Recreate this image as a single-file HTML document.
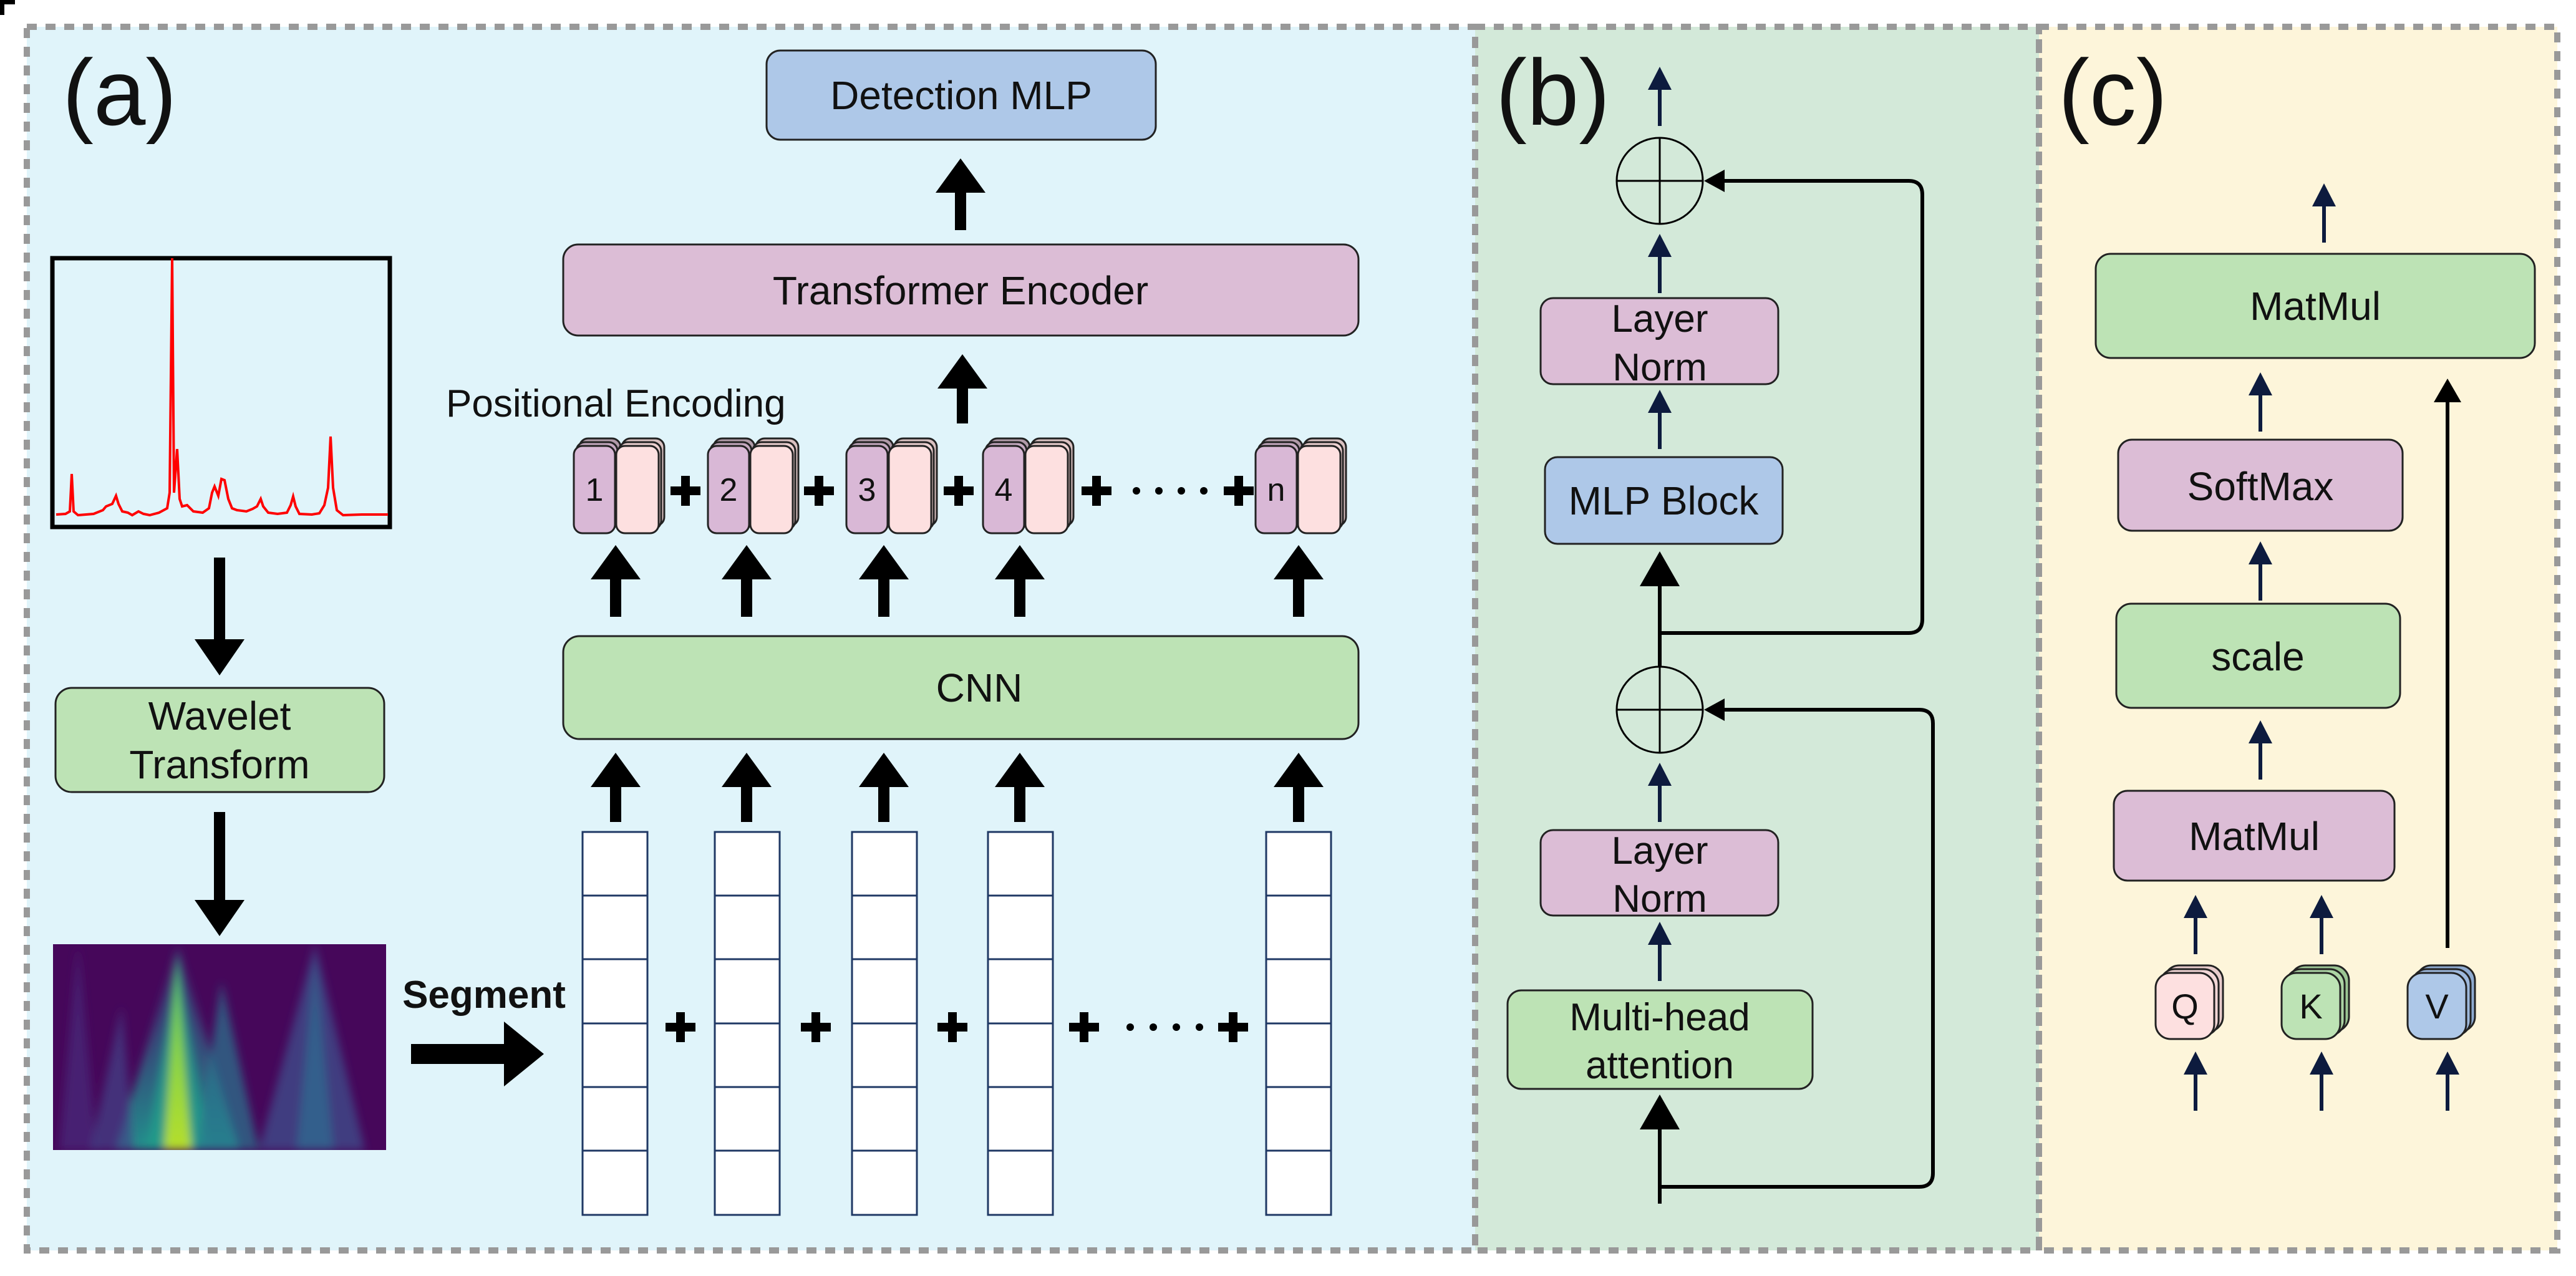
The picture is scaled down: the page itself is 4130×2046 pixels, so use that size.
<!DOCTYPE html>
<html><head><meta charset="utf-8"><style>
html,body{margin:0;padding:0;background:#fff;}
svg{display:block;}
text{font-family:"Liberation Sans",sans-serif;fill:#111;}
</style></head><body>
<svg xmlns="http://www.w3.org/2000/svg" width="4130" height="2046" viewBox="0 0 4130 2046">
<defs>
<filter id="bl" x="-20%" y="-20%" width="140%" height="140%"><feGaussianBlur stdDeviation="7"/></filter>
<linearGradient id="cone" x1="0" y1="0" x2="0" y2="1"><stop offset="0" stop-color="#3b528b" stop-opacity="0.3"/><stop offset="1" stop-color="#21918c"/></linearGradient>
<linearGradient id="cone2" x1="0" y1="0" x2="0" y2="1"><stop offset="0" stop-color="#5ec962"/><stop offset="1" stop-color="#b5de2b"/></linearGradient>
</defs>
<!-- panel backgrounds -->
<rect x="43" y="43" width="2322" height="1962" fill="#e0f4fa"/>
<rect x="2365" y="43" width="904" height="1962" fill="#d3e9d9"/>
<rect x="3269" y="43" width="831" height="1962" fill="#fdf5da"/>
<g fill="none" stroke="#999" stroke-width="10" stroke-dasharray="16 14">
<rect x="43" y="43" width="2322" height="1962"/>
<rect x="2365" y="43" width="904" height="1962"/>
<rect x="3269" y="43" width="831" height="1962"/>
</g>
<text x="100" y="200" font-size="150">(a)</text>
<text x="2398" y="200" font-size="150">(b)</text>
<text x="3300" y="200" font-size="150">(c)</text>

<!-- spectrum -->
<rect x="84" y="414" width="541" height="431" fill="#e0f4fa" stroke="#000" stroke-width="7"/>
<polyline fill="none" stroke="#ff0000" stroke-width="4" points="90,825 105,824 112,820 115,760 118,820 125,826 150,824 165,818 170,812 180,808 186,795 190,808 196,820 205,822 212,826 222,820 230,824 240,826 255,822 268,815 272,790 276,414 279,790 284,720 288,800 292,812 300,810 310,820 325,822 335,815 340,790 344,780 350,795 355,768 360,770 366,800 372,815 380,818 395,820 405,816 412,812 418,800 422,812 430,822 445,824 460,822 466,810 470,796 474,812 480,824 500,825 512,823 520,810 526,782 530,700 534,782 540,818 550,826 580,825 622,825"/>

<!-- scalogram -->
<svg x="85" y="1514" width="534" height="330" viewBox="0 0 534 330">
<rect width="534" height="330" fill="#46075a"/>
<g filter="url(#bl)">
<path d="M40 0 L10 330 L70 330 Z" fill="#482878" opacity="0.8"/>
<path d="M200 0 L100 330 L300 330 Z" fill="url(#cone)"/>
<path d="M200 10 L150 330 L250 330 Z" fill="#1f9e89" opacity="0.8"/>
<path d="M198 20 L178 330 L222 330 Z" fill="url(#cone2)"/>
<path d="M270 60 L230 330 L330 330 Z" fill="#2a788e" opacity="0.7"/>
<path d="M420 0 L330 330 L500 330 Z" fill="#3e4a89" opacity="0.8"/>
<path d="M420 20 L390 330 L450 330 Z" fill="#31688e" opacity="0.8"/>
<path d="M110 100 L60 330 L130 330 Z" fill="#414487" opacity="0.7"/>
</g>
</svg>

<!-- fat arrows -->
<g fill="#000">
<polygon points="343,894 361,894 361,1025 392,1025 352,1083 312,1025 343,1025"/>
<polygon points="343,1302 361,1302 361,1443 392,1443 352,1501 312,1443 343,1443"/>
<polygon points="659,1674 808,1674 808,1638 872,1690 808,1742 808,1706 659,1706"/>
</g>
<g fill="#000" id="ups">
<polygon points="978,1318 996,1318 996,1262 1027,1262 987,1207 947,1262 978,1262"/>
<polygon points="1188,1318 1206,1318 1206,1262 1237,1262 1197,1207 1157,1262 1188,1262"/>
<polygon points="1408,1318 1426,1318 1426,1262 1457,1262 1417,1207 1377,1262 1408,1262"/>
<polygon points="1626,1318 1644,1318 1644,1262 1675,1262 1635,1207 1595,1262 1626,1262"/>
<polygon points="2073,1318 2091,1318 2091,1262 2122,1262 2082,1207 2042,1262 2073,1262"/>
<polygon points="978,989 996,989 996,929 1027,929 987,874 947,929 978,929"/>
<polygon points="1188,989 1206,989 1206,929 1237,929 1197,874 1157,929 1188,929"/>
<polygon points="1408,989 1426,989 1426,929 1457,929 1417,874 1377,929 1408,929"/>
<polygon points="1626,989 1644,989 1644,929 1675,929 1635,874 1595,929 1626,929"/>
<polygon points="2073,989 2091,989 2091,929 2122,929 2082,874 2042,929 2073,929"/>
<polygon points="1534,679 1552,679 1552,623 1583,623 1543,568 1503,623 1534,623"/>
<polygon points="1531,369 1549,369 1549,309 1580,309 1540,254 1500,309 1531,309"/>
</g>

<text x="776" y="1616" font-size="62" font-weight="bold" text-anchor="middle">Segment</text>

<!-- columns -->
<g fill="#fff" stroke="#1f3864" stroke-width="3">
<g id="col"><rect x="934" y="1334" width="104" height="614"/>
<path d="M934 1436H1038M934 1538H1038M934 1641H1038M934 1743H1038M934 1845H1038"/></g>
<use href="#col" x="212"/><use href="#col" x="432"/><use href="#col" x="650"/><use href="#col" x="1096"/>
</g>

<!-- plus signs -->
<g fill="#000">
<g id="pl"><rect x="-24" y="-7" width="48" height="14"/><rect x="-7" y="-24" width="14" height="48"/></g>
<use href="#pl" x="1091" y="1647"/><use href="#pl" x="1308" y="1647"/><use href="#pl" x="1527" y="1647"/><use href="#pl" x="1738" y="1647"/><use href="#pl" x="1977" y="1647"/>
<circle cx="1812" cy="1647" r="6"/><circle cx="1849" cy="1647" r="6"/><circle cx="1886" cy="1647" r="6"/><circle cx="1923" cy="1647" r="6"/>
<use href="#pl" x="1099" y="787"/><use href="#pl" x="1313" y="787"/><use href="#pl" x="1537" y="787"/><use href="#pl" x="1758" y="787"/><use href="#pl" x="1986" y="787"/>
<circle cx="1822" cy="787" r="6"/><circle cx="1858" cy="787" r="6"/><circle cx="1894" cy="787" r="6"/><circle cx="1930" cy="787" r="6"/>
</g>

<!-- boxes panel a -->
<rect x="1229" y="81" width="624" height="143" rx="22" fill="#aec8e8" stroke="#222" stroke-width="3"/>
<text x="1541" y="175" font-size="64" text-anchor="middle">Detection MLP</text>
<rect x="903" y="392" width="1275" height="146" rx="24" fill="#dcbdd6" stroke="#222" stroke-width="3"/>
<text x="1540" y="488" font-size="64" text-anchor="middle">Transformer Encoder</text>
<rect x="903" y="1020" width="1275" height="165" rx="26" fill="#bde3b5" stroke="#222" stroke-width="3"/>
<text x="1570" y="1125" font-size="64" text-anchor="middle">CNN</text>
<rect x="89" y="1103" width="527" height="167" rx="26" fill="#bde3b5" stroke="#222" stroke-width="3"/>
<text x="352" y="1170" font-size="64" text-anchor="middle">Wavelet</text>
<text x="352" y="1248" font-size="64" text-anchor="middle">Transform</text>
<text x="715" y="668" font-size="62">Positional Encoding</text>

<!-- tokens -->
<g stroke="#222" stroke-width="3">
<g id="tok">
<rect x="929" y="703" width="66" height="140" rx="14" fill="#b09aa8"/>
<rect x="924" y="709" width="66" height="140" rx="14" fill="#c4a8bf"/>
<rect x="920" y="715" width="66" height="140" rx="14" fill="#d9b8d6"/>
<rect x="997" y="703" width="68" height="140" rx="14" fill="#d9c0c0"/>
<rect x="992" y="709" width="68" height="140" rx="14" fill="#ecd0d0"/>
<rect x="988" y="715" width="68" height="140" rx="14" fill="#fde0e0"/>
</g>
<use href="#tok" x="215"/><use href="#tok" x="437"/><use href="#tok" x="656"/><use href="#tok" x="1093"/>
</g>
<g font-size="52" text-anchor="middle">
<text x="953" y="803">1</text><text x="1168" y="803">2</text><text x="1390" y="803">3</text><text x="1609" y="803">4</text><text x="2046" y="803">n</text>
</g>

<!-- panel b -->
<g fill="none" stroke="#000" stroke-width="6">
<path d="M2661 1015 H3060 Q3082 1015 3082 993 V312 Q3082 290 3060 290 H2760"/>
<path d="M2661 1903 H3077 Q3099 1903 3099 1881 V1160 Q3099 1138 3077 1138 H2760"/>
<path d="M2661 1069 V935"/>
<path d="M2661 1930 V1805"/>
</g>
<g fill="#000">
<polygon points="2732,290 2765,272 2765,308"/>
<polygon points="2732,1138 2765,1120 2765,1156"/>
<polygon points="2661,884 2693,940 2629,940"/>
<polygon points="2661,1755 2693,1811 2629,1811"/>
</g>
<g fill="none" stroke="#000" stroke-width="3">
<circle cx="2661" cy="290" r="69"/><path d="M2592 290H2730M2661 221V359"/>
<circle cx="2661" cy="1138" r="69"/><path d="M2592 1138H2730M2661 1069V1207"/>
</g>
<!-- small arrows -->
<g stroke="#0d1b3e" stroke-width="6" fill="#0d1b3e">
<g id="sa"><line x1="0" y1="0" x2="0" y2="-60"/><polygon stroke="none" points="0,-95 -19,-58 19,-58"/></g>
<use href="#sa" x="2661" y="202"/>
<use href="#sa" x="2661" y="470"/>
<use href="#sa" x="2661" y="720"/>
<use href="#sa" x="2661" y="1318"/>
<use href="#sa" x="2661" y="1573"/>
<use href="#sa" x="3726" y="389"/>
<use href="#sa" x="3624" y="692"/>
<use href="#sa" x="3624" y="963"/>
<use href="#sa" x="3624" y="1250"/>
<use href="#sa" x="3520" y="1530"/>
<use href="#sa" x="3722" y="1530"/>
<use href="#sa" x="3520" y="1781"/>
<use href="#sa" x="3722" y="1781"/>
<use href="#sa" x="3924" y="1781"/>
</g>
<line x1="3924" y1="1520" x2="3924" y2="640" stroke="#000" stroke-width="6"/>
<polygon points="3924,607 3946,645 3902,645" fill="#000"/>

<rect x="2470" y="478" width="381" height="138" rx="20" fill="#dcbdd6" stroke="#222" stroke-width="3"/>
<text x="2661" y="532" font-size="62" text-anchor="middle">Layer</text>
<text x="2661" y="610" font-size="62" text-anchor="middle">Norm</text>
<rect x="2477" y="733" width="381" height="139" rx="20" fill="#aec8e8" stroke="#222" stroke-width="3"/>
<text x="2667" y="825" font-size="64" text-anchor="middle">MLP Block</text>
<rect x="2470" y="1331" width="381" height="137" rx="20" fill="#dcbdd6" stroke="#222" stroke-width="3"/>
<text x="2661" y="1385" font-size="62" text-anchor="middle">Layer</text>
<text x="2661" y="1462" font-size="62" text-anchor="middle">Norm</text>
<rect x="2417" y="1588" width="489" height="158" rx="22" fill="#bde3b5" stroke="#222" stroke-width="3"/>
<text x="2661" y="1652" font-size="62" text-anchor="middle">Multi-head</text>
<text x="2661" y="1729" font-size="62" text-anchor="middle">attention</text>

<!-- panel c -->
<rect x="3360" y="407" width="704" height="167" rx="24" fill="#bde3b5" stroke="#222" stroke-width="3"/>
<text x="3712" y="513" font-size="64" text-anchor="middle">MatMul</text>
<rect x="3396" y="705" width="456" height="146" rx="22" fill="#dcbdd6" stroke="#222" stroke-width="3"/>
<text x="3624" y="802" font-size="64" text-anchor="middle">SoftMax</text>
<rect x="3393" y="968" width="455" height="167" rx="24" fill="#bde3b5" stroke="#222" stroke-width="3"/>
<text x="3620" y="1075" font-size="64" text-anchor="middle">scale</text>
<rect x="3389" y="1268" width="450" height="144" rx="22" fill="#dcbdd6" stroke="#222" stroke-width="3"/>
<text x="3614" y="1363" font-size="64" text-anchor="middle">MatMul</text>

<g stroke="#222" stroke-width="3">
<rect x="3470" y="1548" width="94" height="106" rx="24" fill="#e8cccc"/>
<rect x="3463" y="1554" width="94" height="106" rx="24" fill="#f2d6d6"/>
<rect x="3456" y="1560" width="94" height="106" rx="24" fill="#fde0e0"/>
<rect x="3672" y="1548" width="94" height="106" rx="24" fill="#9cc694"/>
<rect x="3665" y="1554" width="94" height="106" rx="24" fill="#acd4a4"/>
<rect x="3658" y="1560" width="94" height="106" rx="24" fill="#bde3b5"/>
<rect x="3874" y="1548" width="94" height="106" rx="24" fill="#8eaad0"/>
<rect x="3867" y="1554" width="94" height="106" rx="24" fill="#9eb9dc"/>
<rect x="3860" y="1560" width="94" height="106" rx="24" fill="#aec8e8"/>
</g>
<g font-size="56" text-anchor="middle">
<text x="3503" y="1633">Q</text><text x="3705" y="1633">K</text><text x="3907" y="1633">V</text>
</g>
</svg>
</body></html>
